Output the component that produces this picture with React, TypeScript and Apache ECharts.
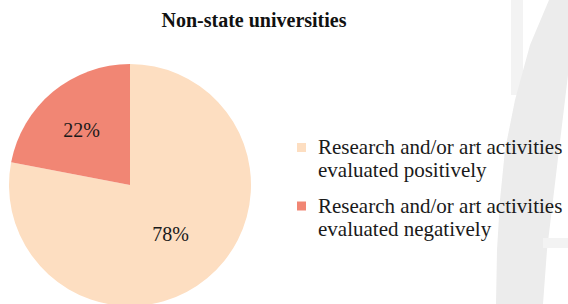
import React, { useEffect, useRef } from "react";
import * as echarts from "echarts";

const title = "Non-state universities";
const categories = [
  "Research and/or art activities\nevaluated positively",
  "Research and/or art activities\nevaluated negatively",
];
const values = [78, 22];
const colors = ["#FDDEC1", "#F18674"];

export default function App() {
  const ref = useRef<HTMLDivElement>(null);
  useEffect(() => {
    document.body.style.margin = "0";
    const chart = echarts.init(ref.current!, null, { renderer: "svg" });
    const fam = "Liberation Serif";
    const legendGraphics: any[] = [];
    categories.forEach((name, i) => {
      legendGraphics.push({
        type: "rect",
        shape: { x: 297, y: 143 + i * 58.5, width: 9, height: 9 },
        style: { fill: colors[i] },
        silent: true,
      });
      legendGraphics.push({
        type: "text",
        x: 318,
        y: 135.5 + i * 58.5,
        style: {
          text: name,
          fill: "#1a1a1a",
          fontFamily: fam,
          fontSize: 21,
          lineHeight: 23,
          verticalAlign: "top",
          align: "left",
        },
        silent: true,
      });
    });
    chart.setOption({
      animation: false,
      backgroundColor: "#ffffff",
      title: {
        text: title,
        left: 249,
        textAlign: "center",
        top: 5,
        textStyle: {
          fontFamily: fam,
          fontSize: 20,
          fontWeight: "bold",
          color: "#111111",
        },
      },
      graphic: [
        {
          type: "rect",
          shape: { x: 511, y: 0, width: 12, height: 95 },
          style: { fill: "#f3f3f3" },
          silent: true,
        },
        {
          type: "polygon",
          shape: {
            points: [
              [549, 0],
              [530, 45],
              [515, 100],
              [505, 150],
              [500, 200],
              [497, 250],
              [496, 304],
              [543, 304],
              [547, 250],
              [553, 200],
              [559, 150],
              [565, 100],
              [571, 50],
              [576, 0],
            ],
          },
          style: { fill: "#ececec" },
          silent: true,
        },
        {
          type: "rect",
          shape: { x: 543, y: 238, width: 25, height: 10 },
          style: { fill: "#f3f3f3" },
          silent: true,
        },
        ...legendGraphics,
      ],
      series: [
        {
          type: "pie",
          center: [130, 185],
          radius: 121,
          startAngle: 90,
          clockwise: true,
          silent: true,
          emphasis: { disabled: true },
          labelLine: { show: false },
          label: {
            show: true,
            position: "inside",
            formatter: "{c}%",
            fontFamily: fam,
            fontSize: 20,
            color: "#1a1a1a",
          },
          itemStyle: { borderWidth: 0 },
          data: values.map((v, i) => ({
            value: v,
            name: categories[i],
            itemStyle: { color: colors[i] },
            label:
              i === 1
                ? { offset: [-8, -6], fontFamily: fam, fontSize: 20 }
                : { fontFamily: fam, fontSize: 20 },
          })),
        },
      ],
    });
    return () => chart.dispose();
  }, []);
  return <div ref={ref} style={{ width: 568, height: 304 }} />;
}
